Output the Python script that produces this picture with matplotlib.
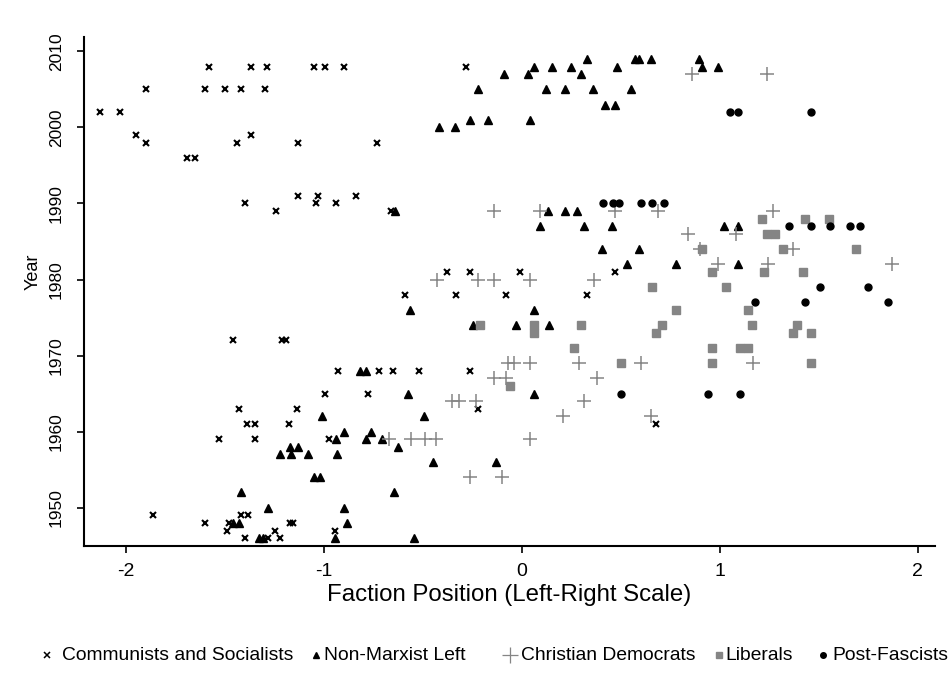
import matplotlib
matplotlib.use("Agg")
import matplotlib.pyplot as plt
from matplotlib.lines import Line2D

# ---------------- data ----------------
comm_x = [-1.58, -1.37, -1.29, -1.05, -0.995, -0.90, -0.28,
          -1.90, -1.60, -1.50, -1.42, -1.30,
          -2.13, -2.03,
          -1.95, -1.37,
          -1.90, -1.44, -1.13, -0.73,
          -1.69, -1.65,
          -1.13, -1.03, -0.84,
          -1.40, -1.04, -0.94,
          -1.24, -0.66,
          -0.38, -0.26, -0.01, 0.47,
          -0.59, -0.335, -0.08, 0.33,
          -1.46, -1.21, -1.19,
          -0.93, -0.72, -0.65, -0.52, -0.26,
          -0.995, -0.78,
          -1.43, -1.135, -0.22,
          -1.39, -1.35, -1.175, 0.68,
          -1.53, -1.35, -0.975,
          -1.865, -1.42, -1.385,
          -1.60, -1.48, -1.17, -1.155,
          -1.49, -1.245, -0.945,
          -1.40, -1.285, -1.22]
comm_y = [2008, 2008, 2008, 2008, 2008, 2008, 2008,
          2005, 2005, 2005, 2005, 2005,
          2002, 2002,
          1999, 1999,
          1998, 1998, 1998, 1998,
          1996, 1996,
          1991, 1991, 1991,
          1990, 1990, 1990,
          1989, 1989,
          1981, 1981, 1981, 1981,
          1978, 1978, 1978, 1978,
          1972, 1972, 1972,
          1968, 1968, 1968, 1968, 1968,
          1965, 1965,
          1963, 1963, 1963,
          1961, 1961, 1961, 1961,
          1959, 1959, 1959,
          1949, 1949, 1949,
          1948, 1948, 1948, 1948,
          1947, 1947, 1947,
          1946, 1946, 1946]

nml_x = [0.33, 0.57, 0.59, 0.65, 0.895,
         0.06, 0.15, 0.25, 0.48, 0.91, 0.99,
         -0.09, 0.03, 0.30,
         -0.22, 0.12, 0.22, 0.36, 0.55,
         0.42, 0.47,
         -0.26, -0.17, 0.04,
         -0.42, -0.34,
         -0.64, 0.13, 0.22, 0.28,
         0.09, 0.315, 0.456, 1.02, 1.09,
         0.405, 0.59,
         0.53, 0.78, 1.09,
         -0.565, 0.06,
         -0.245, -0.03, 0.135,
         -0.82, -0.79,
         -0.575, 0.06,
         -1.01, -0.495,
         -0.90, -0.76,
         -0.94, -0.79, -0.705,
         -1.17, -1.13, -0.625,
         -1.22, -1.165, -1.08, -0.935,
         -0.45, -0.13,
         -1.05, -1.02,
         -1.42, -0.645,
         -1.285, -0.90,
         -1.46, -1.43, -0.885,
         -1.33, -1.31, -0.945, -0.545]
nml_y = [2009, 2009, 2009, 2009, 2009,
         2008, 2008, 2008, 2008, 2008, 2008,
         2007, 2007, 2007,
         2005, 2005, 2005, 2005, 2005,
         2003, 2003,
         2001, 2001, 2001,
         2000, 2000,
         1989, 1989, 1989, 1989,
         1987, 1987, 1987, 1987, 1987,
         1984, 1984,
         1982, 1982, 1982,
         1976, 1976,
         1974, 1974, 1974,
         1968, 1968,
         1965, 1965,
         1962, 1962,
         1960, 1960,
         1959, 1959, 1959,
         1958, 1958, 1958,
         1957, 1957, 1957, 1957,
         1956, 1956,
         1954, 1954,
         1952, 1952,
         1950, 1950,
         1948, 1948, 1948,
         1946, 1946, 1946, 1946]

cd_x = [0.86, 1.24,
        -0.14, 0.09, 0.47, 0.69, 1.27,
        0.84, 1.08,
        0.90, 1.37,
        0.99, 1.245, 1.87,
        -0.43, -0.22, -0.14, 0.04, 0.365,
        -0.07, -0.04, 0.04, 0.29, 0.60, 1.17,
        -0.14, -0.08, 0.38,
        -0.355, -0.32, -0.23, 0.315,
        0.21, 0.65,
        -0.67, -0.56, -0.49, -0.435, 0.04,
        -0.26, -0.10]
cd_y = [2007, 2007,
        1989, 1989, 1989, 1989, 1989,
        1986, 1986,
        1984, 1984,
        1982, 1982, 1982,
        1980, 1980, 1980, 1980, 1980,
        1969, 1969, 1969, 1969, 1969, 1969,
        1967, 1967, 1967,
        1964, 1964, 1964, 1964,
        1962, 1962,
        1959, 1959, 1959, 1959, 1959,
        1954, 1954]

lib_x = [1.215, 1.43, 1.55,
         1.24, 1.28,
         0.91, 1.32, 1.69,
         0.96, 1.225, 1.42,
         0.655, 1.03,
         0.78, 1.14,
         -0.21, 0.06, 0.30, 0.71, 1.165, 1.39,
         0.06, 0.68, 1.37, 1.46,
         0.265, 0.96, 1.10, 1.14,
         0.50, 0.96, 1.46,
         -0.06]
lib_y = [1988, 1988, 1988,
         1986, 1986,
         1984, 1984, 1984,
         1981, 1981, 1981,
         1979, 1979,
         1976, 1976,
         1974, 1974, 1974, 1974, 1974, 1974,
         1973, 1973, 1973, 1973,
         1971, 1971, 1971, 1971,
         1969, 1969, 1969,
         1966]

pf_x = [1.05, 1.09, 1.46,
        0.41, 0.46, 0.49, 0.60, 0.655, 0.72,
        1.35, 1.46, 1.555, 1.66, 1.71,
        1.505, 1.75,
        1.18, 1.43, 1.85,
        0.50, 0.94, 1.10]
pf_y = [2002, 2002, 2002,
        1990, 1990, 1990, 1990, 1990, 1990,
        1987, 1987, 1987, 1987, 1987,
        1979, 1979,
        1977, 1977, 1977,
        1965, 1965, 1965]

x_ticks = [-2, -1, 0, 1, 2]
x_ticklabels = ["-2", "-1", "0", "1", "2"]
y_ticks = [1950, 1960, 1970, 1980, 1990, 2000, 2010]
labels = ["Communists and Socialists", "Non-Marxist Left",
          "Christian Democrats", "Liberals", "Post-Fascists"]

# ---------------- plot ----------------
plt.rcParams['font.family'] = ['Liberation Sans', 'DejaVu Sans']

W, H = 949, 697
fig = plt.figure(figsize=(W / 100, H / 100), dpi=100)
ax = fig.add_axes([0.088, 0.2166, 0.897, 0.7304])

gray = '#858585'
styles = [
    dict(marker='x', color='black', markersize=5, markeredgewidth=1.5),
    dict(marker='^', color='black', markersize=6),
    dict(marker='+', color=gray, markersize=9.5, markeredgewidth=1.1),
    dict(marker='s', color=gray, markersize=6),
    dict(marker='o', color='black', markersize=5),
]
series = [(comm_x, comm_y), (nml_x, nml_y), (cd_x, cd_y), (lib_x, lib_y), (pf_x, pf_y)]
for (xs, ys), st, lab in zip(series, styles, labels):
    ax.plot(xs, ys, linestyle='none', label=lab, **st)

ax.set_xlim(-2.215, 2.086)
ax.set_ylim(1944.96, 2011.9)
ax.set_xticks(x_ticks)
ax.set_xticklabels(x_ticklabels)
ax.set_yticks(y_ticks)
ax.set_yticklabels([str(v) for v in y_ticks], rotation=90, va='center')
ax.tick_params(axis='both', direction='out', length=5, width=1.2, color='black')
ax.tick_params(axis='x', labelsize=14, pad=7)
ax.tick_params(axis='y', labelsize=12.5, pad=9)
for s in ['top', 'right']:
    ax.spines[s].set_visible(False)
for s in ['left', 'bottom']:
    ax.spines[s].set_linewidth(1.5)

ax.set_xlabel("Faction Position (Left-Right Scale)", fontsize=17.3, labelpad=3)
ax.set_ylabel("Year", fontsize=13)
ax.yaxis.set_label_coords(-0.049, 0.538)

# legend placed entry by entry (marker x, text x in pixels)
leg_marker_px = [47, 316, 510, 719, 823]
leg_text_px = [62, 324, 521, 725, 832]
leg_y = 1 - 655 / H
leg_styles = [
    dict(marker='x', color='black', markersize=4, markeredgewidth=1.1),
    dict(marker='^', color='black', markersize=4.5),
    dict(marker='+', color=gray, markersize=11, markeredgewidth=0.9),
    dict(marker='s', color=gray, markersize=5),
    dict(marker='o', color='black', markersize=4),
]
for mx, tx, st, lab in zip(leg_marker_px, leg_text_px, leg_styles, labels):
    fig.add_artist(Line2D([mx / W], [leg_y], transform=fig.transFigure,
                          linestyle='none', **st))
    fig.text(tx / W, leg_y, lab, fontsize=13.9, ha='left', va='center')

fig.savefig("out.png", dpi=100)
